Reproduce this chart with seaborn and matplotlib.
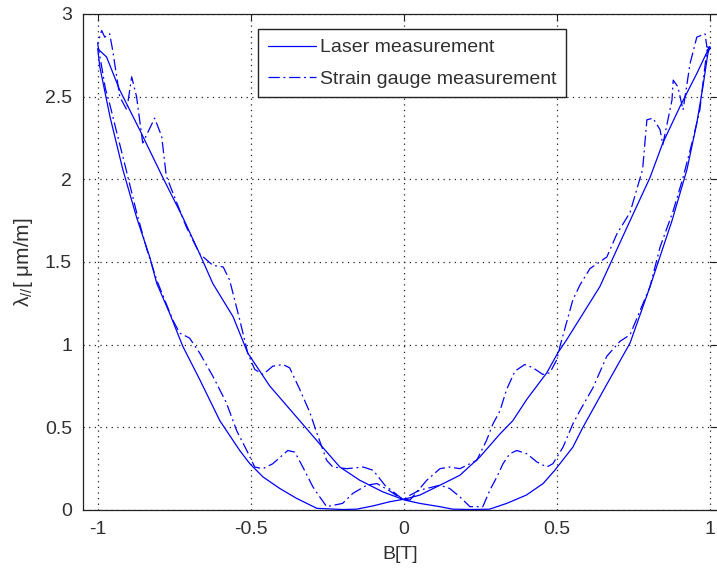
import numpy as np
import pandas as pd
import matplotlib
matplotlib.use("Agg")
import matplotlib.pyplot as plt
import seaborn as sns

# ---------------- data ----------------
# Laser measurement: one hysteresis loop, in traversal order
laser_B = [1.0, 0.993, 0.957, 0.902, 0.846, 0.804, 0.739, 0.64, 0.532, 0.503, 0.467,
           0.402, 0.356, 0.314, 0.248, 0.183, 0.118, 0.052, 0.003,
           -0.046, -0.1, -0.154, -0.2, -0.284, -0.35, -0.405, -0.46, -0.503, -0.536,
           -0.601, -0.667, -0.722, -0.765, -0.807, -0.83, -0.873, -0.918, -0.96,
           -0.993, -1.0,
           -0.971, -0.928, -0.863, -0.787, -0.722, -0.667, -0.624, -0.558, -0.51,
           -0.438, -0.34, -0.275, -0.209, -0.144, -0.069, 0.003,
           0.052, 0.118, 0.16, 0.22, 0.28, 0.336, 0.4, 0.455, 0.493, 0.552, 0.585,
           0.66, 0.739, 0.804, 0.876, 0.925, 0.957, 0.977, 0.993, 1.0]
laser_L = [2.8, 2.78, 2.64, 2.44, 2.22, 2.01, 1.75, 1.35, 1.03, 0.95, 0.83,
           0.67, 0.54, 0.46, 0.32, 0.21, 0.15, 0.09, 0.066,
           0.05, 0.025, 0.005, 0.003, 0.01, 0.07, 0.13, 0.2, 0.28, 0.36,
           0.54, 0.79, 0.99, 1.19, 1.37, 1.53, 1.77, 2.06, 2.38,
           2.68, 2.79,
           2.74, 2.54, 2.3, 2.01, 1.77, 1.55, 1.37, 1.17, 0.95,
           0.75, 0.54, 0.4, 0.26, 0.18, 0.11, 0.06,
           0.04, 0.02, 0.005, 0.003, 0.005, 0.04, 0.09, 0.16, 0.24, 0.38, 0.5,
           0.75, 1.01, 1.35, 1.75, 2.06, 2.34, 2.56, 2.76, 2.8]

# Strain gauge measurement: one hysteresis loop, in traversal order
gauge_B = [1.0, 0.99, 0.984, 0.957, 0.935, 0.912, 0.895, 0.88, 0.876, 0.846, 0.837,
           0.814, 0.794, 0.78, 0.739, 0.696, 0.663, 0.608, 0.575, 0.552, 0.51, 0.5,
           0.477, 0.454, 0.422, 0.395, 0.363, 0.336, 0.314, 0.291, 0.27, 0.238,
           0.183, 0.15, 0.118, 0.075, 0.02,
           -0.01, -0.05, -0.088, -0.121, -0.167, -0.2, -0.252, -0.275, -0.297, -0.33,
           -0.356, -0.379, -0.428, -0.46, -0.487, -0.513, -0.546, -0.58, -0.624,
           -0.667, -0.7, -0.732, -0.755, -0.807, -0.84, -0.873, -0.91, -0.94, -0.96,
           -0.975, -0.985, -1.0,
           -0.987, -0.977, -0.961, -0.951, -0.928, -0.905, -0.889, -0.873, -0.853,
           -0.814, -0.791, -0.776, -0.71, -0.667, -0.624, -0.59, -0.569, -0.536,
           -0.51, -0.487, -0.46, -0.428, -0.395, -0.373, -0.34, -0.307, -0.285,
           -0.252, -0.232, -0.186, -0.133, -0.1, -0.062, 0.0,
           0.01, 0.052, 0.118, 0.15, 0.183, 0.216, 0.258, 0.281, 0.304, 0.324, 0.346,
           0.369, 0.402, 0.435, 0.467, 0.487, 0.52, 0.552, 0.575, 0.618, 0.663, 0.706,
           0.739, 0.804, 0.837, 0.88, 0.912, 0.944, 0.967, 0.977, 0.99, 1.0]
gauge_L = [2.8, 2.8, 2.88, 2.86, 2.7, 2.42, 2.56, 2.6, 2.48, 2.21, 2.3,
           2.37, 2.36, 2.06, 1.8, 1.67, 1.53, 1.46, 1.36, 1.27, 0.99, 0.91,
           0.83, 0.82, 0.86, 0.88, 0.84, 0.73, 0.6, 0.52, 0.42, 0.30,
           0.25, 0.26, 0.25, 0.18, 0.06,
           0.07, 0.12, 0.16, 0.15, 0.10, 0.04, 0.02, 0.08, 0.14, 0.26,
           0.35, 0.36, 0.28, 0.25, 0.26, 0.36, 0.48, 0.65, 0.81,
           0.95, 1.04, 1.07, 1.15, 1.39, 1.58, 1.8, 2.08, 2.3, 2.45,
           2.55, 2.66, 2.82,
           2.9, 2.86, 2.88, 2.78, 2.5, 2.42, 2.62, 2.5, 2.22,
           2.37, 2.26, 2.02, 1.71, 1.55, 1.48, 1.47, 1.39, 1.15,
           0.95, 0.85, 0.82, 0.87, 0.88, 0.86, 0.73, 0.59, 0.47,
           0.30, 0.26, 0.25, 0.26, 0.24, 0.15, 0.06,
           0.08, 0.12, 0.15, 0.13, 0.08, 0.02, 0.02, 0.12, 0.2, 0.28, 0.34,
           0.36, 0.34, 0.29, 0.26, 0.28, 0.38, 0.52, 0.6, 0.74, 0.93, 1.02,
           1.06, 1.35, 1.59, 1.81, 2.01, 2.24, 2.42, 2.58, 2.78, 2.8]

series_labels = ["Laser measurement", "Strain gauge measurement"]
x_ticks = [-1, -0.5, 0, 0.5, 1]
x_tick_labels = ["-1", "-0.5", "0", "0.5", "1"]
y_ticks = [0, 0.5, 1, 1.5, 2, 2.5, 3]
y_tick_labels = ["0", "0.5", "1", "1.5", "2", "2.5", "3"]

# ---------------- styling ----------------
sns.set_theme(style="white")
plt.rcParams["font.family"] = ["Liberation Sans", "DejaVu Sans"]
plt.rcParams["mathtext.fontset"] = "custom"
plt.rcParams["mathtext.rm"] = "Liberation Sans"
plt.rcParams["mathtext.it"] = "Liberation Sans"

W, H = 717, 570
fig = plt.figure(figsize=(W / 100, H / 100), dpi=100)
ax = fig.add_axes([83 / W, 1 - 510 / H, (717 - 83) / W, (510 - 14) / H])

laser_df = pd.DataFrame({"B": laser_B, "L": laser_L})
gauge_df = pd.DataFrame({"B": gauge_B, "L": gauge_L})

blue = "#0000ff"
sns.lineplot(data=laser_df, x="B", y="L", sort=False, estimator=None, ax=ax,
             color=blue, lw=0.9, label=series_labels[0])
sns.lineplot(data=gauge_df, x="B", y="L", sort=False, estimator=None, ax=ax,
             color=blue, lw=0.9, label=series_labels[1], dashes=False)
dash_pat = [9, 3, 1.5, 3]
ax.lines[1].set_dashes(dash_pat)

ax.set_xlim(-1.048, 1.023)
ax.set_ylim(0, 3)
ax.set_xticks(x_ticks)
ax.set_xticklabels(x_tick_labels)
ax.set_yticks(y_ticks)
ax.set_yticklabels(y_tick_labels)

ax.grid(True, linestyle=(0, (1, 3.5)), color="#222222", linewidth=0.9)
ax.tick_params(direction="in", length=5, width=0.8, colors="#222222",
               labelsize=14, top=True, right=True, pad=8,
               labelcolor="#303030")
for side in ["left", "bottom", "top"]:
    ax.spines[side].set_color("#222222")
    ax.spines[side].set_linewidth(0.9)
ax.spines["right"].set_visible(False)

ax.set_xlabel("B[T]", fontsize=14, color="#303030", labelpad=6)
ax.set_ylabel(r"$\lambda_{//}$[ μm/m]", fontsize=15, color="#303030", labelpad=7)

leg = ax.legend(loc="upper left", bbox_to_anchor=(258 / W, 1 - 29 / H),
                bbox_transform=fig.transFigure, fontsize=14, frameon=True,
                fancybox=False, edgecolor="#222222", framealpha=1,
                handlelength=2.5, handletextpad=0.2, labelspacing=0.7,
                borderpad=0.5, borderaxespad=0)
leg.get_frame().set_linewidth(1.0)
for t in leg.get_texts():
    t.set_color("#303030")
leg.get_lines()[1].set_dashes(dash_pat)

fig.savefig("out.png", dpi=100)
